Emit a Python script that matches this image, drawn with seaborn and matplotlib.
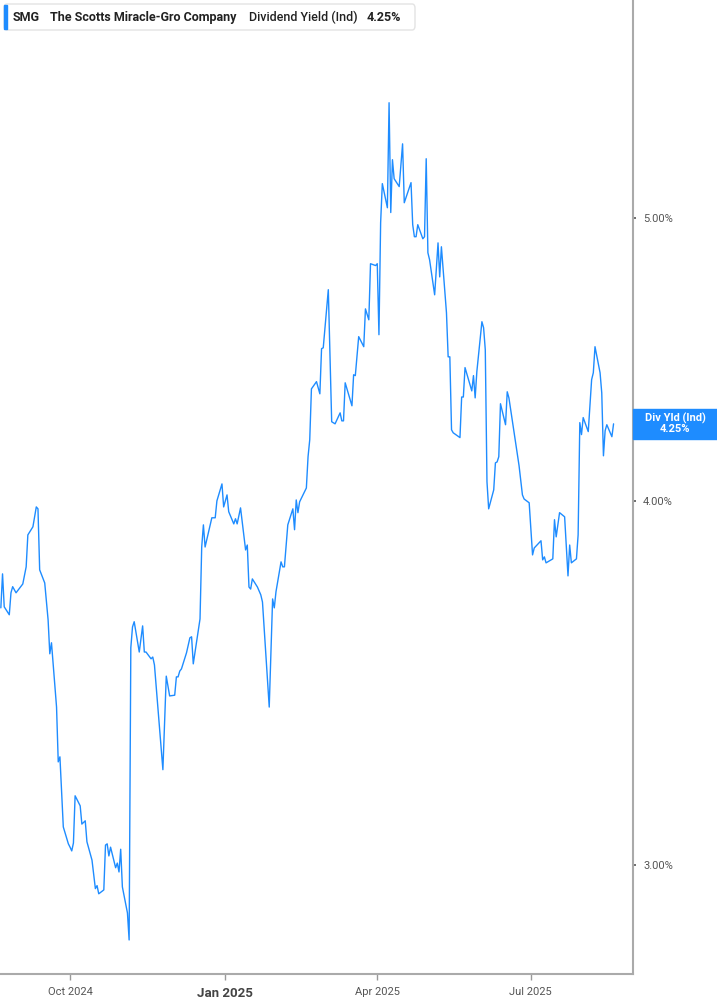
import matplotlib
matplotlib.use("Agg")
import matplotlib.pyplot as plt
import matplotlib.ticker as mticker
from matplotlib.patches import FancyBboxPatch, Rectangle
import seaborn as sns
import pandas as pd

# Dividend yield (Ind), %
dates = [
    "2024-08-21", "2024-08-22", "2024-08-23", "2024-08-26", "2024-08-27", "2024-08-28", "2024-08-30",
    "2024-09-03", "2024-09-05", "2024-09-06", "2024-09-09", "2024-09-11", "2024-09-12", "2024-09-13",
    "2024-09-16", "2024-09-18", "2024-09-19", "2024-09-20", "2024-09-23", "2024-09-24", "2024-09-25",
    "2024-09-27", "2024-09-30", "2024-10-01", "2024-10-02", "2024-10-03", "2024-10-04", "2024-10-07",
    "2024-10-08", "2024-10-10", "2024-10-11", "2024-10-14", "2024-10-16", "2024-10-17", "2024-10-18",
    "2024-10-21", "2024-10-22", "2024-10-23", "2024-10-24", "2024-10-25", "2024-10-28", "2024-10-29",
    "2024-10-30", "2024-10-31", "2024-11-01", "2024-11-04", "2024-11-05", "2024-11-06", "2024-11-07",
    "2024-11-08", "2024-11-11", "2024-11-13", "2024-11-14", "2024-11-15", "2024-11-18", "2024-11-19",
    "2024-11-20", "2024-11-25", "2024-11-27", "2024-11-29", "2024-12-02", "2024-12-03", "2024-12-04",
    "2024-12-05", "2024-12-06", "2024-12-09", "2024-12-11", "2024-12-12", "2024-12-13", "2024-12-17",
    "2024-12-18", "2024-12-19", "2024-12-20", "2024-12-24", "2024-12-26", "2024-12-27", "2024-12-30",
    "2024-12-31", "2025-01-02", "2025-01-03", "2025-01-06", "2025-01-07", "2025-01-08", "2025-01-10",
    "2025-01-13", "2025-01-14", "2025-01-15", "2025-01-16", "2025-01-17", "2025-01-20", "2025-01-22",
    "2025-01-23", "2025-01-27", "2025-01-29", "2025-01-30", "2025-01-31", "2025-02-03", "2025-02-04",
    "2025-02-05", "2025-02-07", "2025-02-10", "2025-02-11", "2025-02-12", "2025-02-13", "2025-02-14",
    "2025-02-18", "2025-02-19", "2025-02-20", "2025-02-21", "2025-02-24", "2025-02-26", "2025-02-27",
    "2025-02-28", "2025-03-03", "2025-03-05", "2025-03-07", "2025-03-10", "2025-03-11", "2025-03-12",
    "2025-03-13", "2025-03-17", "2025-03-18", "2025-03-19", "2025-03-21", "2025-03-24", "2025-03-25",
    "2025-03-27", "2025-03-28", "2025-03-31", "2025-04-01", "2025-04-02", "2025-04-03", "2025-04-04",
    "2025-04-07", "2025-04-08", "2025-04-09", "2025-04-10", "2025-04-11", "2025-04-14", "2025-04-16",
    "2025-04-17", "2025-04-21", "2025-04-22", "2025-04-23", "2025-04-24", "2025-04-25", "2025-04-28",
    "2025-04-29", "2025-04-30", "2025-05-01", "2025-05-02", "2025-05-05", "2025-05-07", "2025-05-08",
    "2025-05-09", "2025-05-12", "2025-05-13", "2025-05-14", "2025-05-15", "2025-05-16", "2025-05-20",
    "2025-05-21", "2025-05-22", "2025-05-23", "2025-05-27", "2025-05-28", "2025-05-29", "2025-05-30",
    "2025-06-02", "2025-06-03", "2025-06-04", "2025-06-05", "2025-06-06", "2025-06-09", "2025-06-10",
    "2025-06-11", "2025-06-12", "2025-06-13", "2025-06-16", "2025-06-17", "2025-06-18", "2025-06-24",
    "2025-06-26", "2025-06-27", "2025-06-30", "2025-07-02", "2025-07-03", "2025-07-07", "2025-07-08",
    "2025-07-09", "2025-07-10", "2025-07-14", "2025-07-15", "2025-07-16", "2025-07-18", "2025-07-21",
    "2025-07-23", "2025-07-24", "2025-07-25", "2025-07-28", "2025-07-29", "2025-07-30", "2025-07-31",
    "2025-08-01", "2025-08-04", "2025-08-06", "2025-08-07", "2025-08-08", "2025-08-11", "2025-08-12",
    "2025-08-13", "2025-08-14", "2025-08-15", "2025-08-18", "2025-08-19",
]
div_yield = [
    3.675, 3.775, 3.678, 3.655, 3.719, 3.737, 3.719,
    3.745, 3.796, 3.893, 3.918, 3.980, 3.974, 3.787,
    3.748, 3.640, 3.544, 3.575, 3.398, 3.254, 3.267,
    3.091, 3.050, 3.042, 3.033, 3.052, 3.168, 3.143,
    3.098, 3.106, 3.055, 3.011, 2.944, 2.951, 2.932,
    2.941, 3.047, 3.050, 3.021, 3.042, 2.993, 3.004,
    2.983, 3.037, 2.948, 2.888, 2.827, 3.561, 3.620,
    3.635, 3.549, 3.623, 3.549, 3.549, 3.530, 3.535,
    3.513, 3.234, 3.482, 3.428, 3.430, 3.480, 3.480,
    3.496, 3.502, 3.547, 3.589, 3.592, 3.516, 3.643,
    3.856, 3.924, 3.856, 3.946, 3.946, 3.999, 4.053,
    3.980, 4.018, 3.965, 3.927, 3.943, 3.927, 3.977,
    3.847, 3.862, 3.736, 3.730, 3.760, 3.736, 3.713,
    3.692, 3.398, 3.701, 3.675, 3.722, 3.811, 3.796,
    3.796, 3.924, 3.974, 3.909, 4.002, 3.962, 3.996,
    4.040, 4.141, 4.197, 4.369, 4.394, 4.352, 4.510,
    4.513, 4.725, 4.257, 4.250, 4.287, 4.260, 4.260,
    4.390, 4.311, 4.418, 4.415, 4.553, 4.517, 4.654,
    4.614, 4.823, 4.816, 4.823, 4.560, 4.982, 5.138,
    5.041, 5.477, 5.022, 5.236, 5.158, 5.126, 5.302,
    5.061, 5.142, 4.974, 4.927, 4.927, 4.974, 4.919,
    4.927, 5.240, 4.865, 4.838, 4.706, 4.903, 4.773,
    4.888, 4.640, 4.481, 4.481, 4.230, 4.220, 4.204,
    4.341, 4.341, 4.443, 4.362, 4.415, 4.338, 4.429,
    4.607, 4.585, 4.506, 4.060, 3.974, 4.034, 4.121,
    4.124, 4.141, 4.318, 4.247, 4.359, 4.338, 4.112,
    4.018, 4.005, 3.993, 3.832, 3.853, 3.875, 3.817,
    3.826, 3.808, 3.820, 3.940, 3.887, 3.962, 3.949,
    3.769, 3.862, 3.808, 3.820, 3.893, 4.254, 4.214,
    4.271, 4.224, 4.401, 4.425, 4.517, 4.425, 4.355,
    4.144, 4.227, 4.247, 4.207, 4.250,
]
ytick_vals = [3, 4, 5]
ytick_labels = ["3.00%", "4.00%", "5.00%"]
xtick_dates = ["2024-10-01", "2025-01-01", "2025-04-01", "2025-07-01"]
xtick_labels = ["Oct 2024", "Jan 2025", "Apr 2025", "Jul 2025"]

ticker = "SMG"
company = "The Scotts Miracle-Gro Company"
metric = "Dividend Yield (Ind)"

blue = "#1e8cff"

sns.set_style("white")
plt.rcParams['font.family'] = ['Roboto', 'DejaVu Sans']

df = pd.DataFrame({'Date': pd.to_datetime(dates), 'Yield': div_yield})

W, H = 717, 1005
fig = plt.figure(figsize=(W / 100, H / 100), dpi=100)
ax = fig.add_axes([0, 1 - 974 / H, 632.7 / W, 974 / H])

sns.lineplot(data=df, x='Date', y='Yield', ax=ax, color=blue, linewidth=1.0)

# Eje Y logaritmico a la derecha
ax.set_yscale('log')
ax.set_ylim(2.752, 5.94)
ax.set_xlim(pd.Timestamp('2024-08-20 12:00'), pd.Timestamp('2025-08-30 08:00'))
ax.yaxis.tick_right()
ax.yaxis.set_minor_locator(mticker.NullLocator())
ax.set_yticks(ytick_vals)
ax.set_yticklabels(ytick_labels)
ax.set_xticks(pd.to_datetime(xtick_dates))
ax.set_xticklabels(xtick_labels)
ax.set_xlabel('')
ax.set_ylabel('')

ax.tick_params(axis='y', which='both', left=False, right=True, length=2.5, width=1.2,
               color='#555555', labelsize=8, labelcolor='#555555', pad=5)
ax.tick_params(axis='x', bottom=True, length=4, width=1, color='#999999',
               labelsize=8, labelcolor='#555555', pad=5)
for lbl in ax.get_xticklabels():
    if lbl.get_text() == "Jan 2025":
        lbl.set_fontweight('bold')
        lbl.set_fontsize(9.5)
        lbl.set_color('#444444')

for side in ['left', 'top']:
    ax.spines[side].set_visible(False)
for side in ['right', 'bottom']:
    ax.spines[side].set_color('#aaaaaa')
    ax.spines[side].set_linewidth(1.5)

# Etiqueta azul con el ultimo valor
fig.canvas.draw()
last_y = ax.transData.transform((0, div_yield[-1]))[1] / H
box_h = 30 / H
fig.patches.append(Rectangle((632.7 / W, last_y - box_h / 2), (W - 632.7) / W, box_h,
                             transform=fig.transFigure, color=blue, zorder=5))
fig.text(675 / W, last_y + 5.5 / H, "Div Yld (Ind)", color='white', fontsize=8,
         fontweight='bold', ha='center', va='center', zorder=6)
fig.text(675 / W, last_y - 5.5 / H, f"{div_yield[-1]:.2f}%", color='white', fontsize=8,
         fontweight='bold', ha='center', va='center', zorder=6)

# Cabecera
fig.patches.append(FancyBboxPatch((4 / W, 1 - 30 / H), 411 / W, 26 / H,
                                  boxstyle="round,pad=0,rounding_size=0.004",
                                  transform=fig.transFigure, facecolor='white',
                                  edgecolor='#e3e3e3', linewidth=1, zorder=5))
fig.patches.append(Rectangle((4 / W, 1 - 29 / H), 3 / W, 24 / H,
                             transform=fig.transFigure, color=blue, zorder=6))
ty = 1 - 17.5 / H
fig.text(13 / W, ty, ticker, fontsize=9, fontweight='bold', color='#222222', va='center', zorder=7)
fig.text(50 / W, ty, company, fontsize=9, fontweight='bold', color='#222222', va='center', zorder=7)
fig.text(249 / W, ty, metric, fontsize=9, fontweight='medium', color='#222222', va='center', zorder=7)
fig.text(367 / W, ty, f"{div_yield[-1]:.2f}%", fontsize=9, fontweight='bold', color='#222222',
         va='center', zorder=7)

fig.savefig('out.png', dpi=100)
plt.close(fig)
